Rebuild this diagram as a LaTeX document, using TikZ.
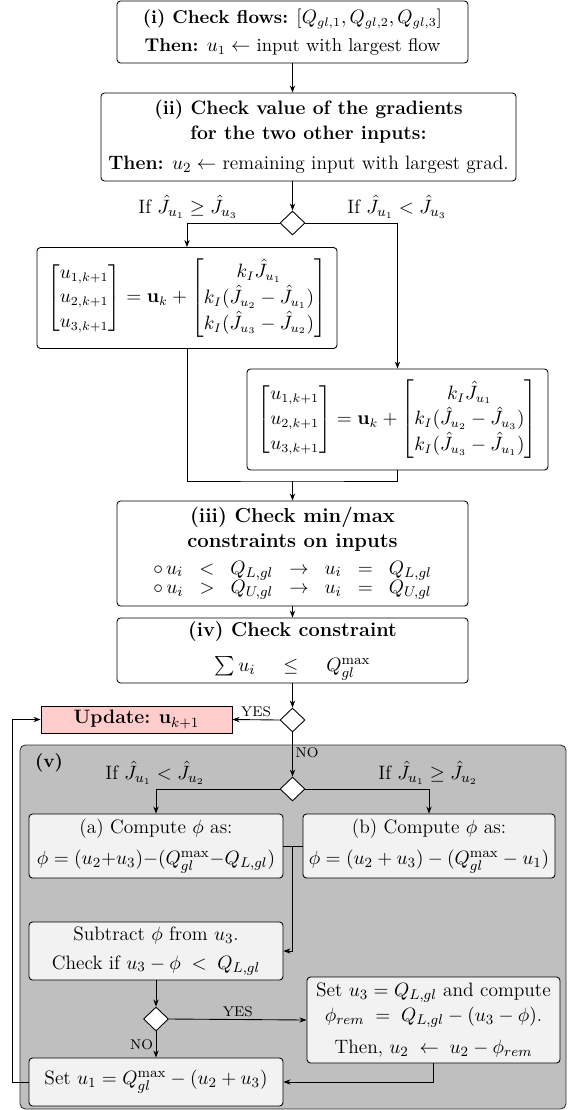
\documentclass[tikz,border=0pt]{standalone}
\usepackage{amsmath,amssymb}
\usetikzlibrary{shapes.geometric,arrows.meta}
\newcommand\pxu{0.567pt}
\newcommand\gapp{\mkern10mu}
\begin{document}
\begin{tikzpicture}[x=0.567pt,y=-0.567pt,
  every node/.append style={font=\fontsize{10}{14}\selectfont},
  fa/.style={font=\fontsize{10.5}{14}\selectfont},
  fb/.style={font=\fontsize{11}{14}\selectfont},
  fm/.style={font=\fontsize{10.6}{14}\selectfont},
  sz/.style 2 args={minimum width=#1*\pxu, minimum height=#2*\pxu},
  box/.style={draw, rounded corners=2pt, line width=0.5pt, align=center, inner sep=0pt, fill=white},
  vbox/.style={box, fill=gray!10, fb},
  dia/.style={diamond, draw, fill=white, inner sep=0pt, minimum width=25*\pxu, minimum height=24*\pxu, line width=0.5pt},
  arr/.style={-{Stealth[length=4pt,width=3pt]}, line width=0.5pt},
  ln/.style={line width=0.5pt},
  lbl/.style={font=\footnotesize, inner sep=1.5pt},
  txt/.style={inner sep=0pt, fb}
]
\useasboundingbox (0,0) rectangle (568,1110);

% top part
\node[box, fa, sz={351}{62}] (i) at (292.5,32) {\textbf{(i) Check flows:} $[Q_{gl,1}, Q_{gl,2}, Q_{gl,3}]$\\[2pt] \textbf{Then:} $u_1 \leftarrow$ input with largest flow};
\node[box, fb, sz={415}{88}] (ii) at (308.5,137) {\textbf{(ii) Check value of the gradients}\\ \textbf{for the two other inputs:}\\[3pt] \textbf{Then:} $u_2 \leftarrow$ remaining input with largest grad.};
\node[dia] (d1) at (292.5,223) {};
\node[txt] (l1) at (188,207) {If $\hat{J}_{u_1} \geq \hat{J}_{u_3}$};
\node[txt] (l2) at (397,207) {If $\hat{J}_{u_1} < \hat{J}_{u_3}$};

\node[box, fm, sz={300}{101}] (A) at (187,298) {$\begin{bmatrix} u_{1,k+1}\\ u_{2,k+1}\\ u_{3,k+1}\end{bmatrix} = \mathbf{u}_k + \begin{bmatrix} k_I\hat{J}_{u_1}\\ k_I(\hat{J}_{u_2}-\hat{J}_{u_1})\\ k_I(\hat{J}_{u_3}-\hat{J}_{u_2})\end{bmatrix}$};
\node[box, fm, sz={301}{101}] (B) at (397.5,419.5) {$\begin{bmatrix} u_{1,k+1}\\ u_{2,k+1}\\ u_{3,k+1}\end{bmatrix} = \mathbf{u}_k + \begin{bmatrix} k_I\hat{J}_{u_1}\\ k_I(\hat{J}_{u_2}-\hat{J}_{u_3})\\ k_I(\hat{J}_{u_3}-\hat{J}_{u_1})\end{bmatrix}$};
\coordinate (m1) at (292.5,481);

\node[box, fb, sz={351}{105}] (iii) at (292.5,553.5) {\textbf{\fontsize{11.5}{14}\selectfont (iii) Check min/max}\\ \textbf{\fontsize{11.5}{14}\selectfont constraints on inputs}\\[1pt] $\circ\, u_i \gapp<\gapp Q_{L,gl} \gapp\rightarrow\gapp u_i \gapp=\gapp Q_{L,gl}$\\[-3pt] $\circ\, u_i \gapp>\gapp Q_{U,gl} \gapp\rightarrow\gapp u_i \gapp=\gapp Q_{U,gl}$};
\node[box, fb, sz={351}{65}] (iv) at (292.5,650.5) {\textbf{\fontsize{11.3}{14}\selectfont (iv) Check constraint}\\[6pt] $\sum u_i \quad\,\leq\quad\, Q^{\max}_{gl}$};
\node[dia] (d2) at (292.5,720) {};
\node[draw, fill=red!20, line width=0.5pt, inner sep=0pt, sz={191}{27}, font=\fontsize{11}{13}\selectfont] (upd) at (136.5,719.5) {\textbf{Update:} $\mathbf{u}_{k+1}$};

% region (v)
\draw[fill=gray!50, draw=black!80, rounded corners=3pt, line width=0.5pt] (20,745) rectangle (566,1109);
\node[txt, font=\fontsize{10.5}{12}\bfseries] (vl) at (49,763) {(v)};
\node[dia] (d3) at (292.5,789) {};
\node[txt] (l3) at (155,773) {If $\hat{J}_{u_1} < \hat{J}_{u_2}$};
\node[txt] (l4) at (428,773) {If $\hat{J}_{u_1} \geq \hat{J}_{u_2}$};

\node[vbox, sz={254}{64}] (a) at (156,846) {(a) Compute $\phi$ as:\\[4pt] $\phi = (u_2{+}u_3){-}(Q^{\max}_{gl}{-}Q_{L,gl})$};
\node[vbox, sz={252}{64}] (b) at (429,846) {(b) Compute $\phi$ as:\\[4pt] $\phi = (u_2 + u_3) - (Q^{\max}_{gl} - u_1)$};
\coordinate (m2) at (292.5,846);
\node[vbox, sz={254}{58}] (sub) at (156,951) {Subtract $\phi$ from $u_3$.\\[2pt] Check if $u_3 - \phi \;<\; Q_{L,gl}$};
\node[dia] (d4) at (156,1019) {};
\node[vbox, sz={253}{86}] (s3) at (433.5,1020) {Set $u_3 = Q_{L,gl}$ and compute\\ $\phi_{rem} \;=\; Q_{L,gl} - (u_3 - \phi)$.\\[4pt] Then, $u_2 \;\leftarrow\; u_2 - \phi_{rem}$};
\node[vbox, sz={254}{48}] (s1) at (156,1082) {Set $u_1 = Q^{\max}_{gl} - (u_2 + u_3)$};

% connectors
\draw[arr] (i.south) -- (i.south |- ii.north);
\draw[arr] (d1.north |- ii.south) -- (d1.north);
\draw[arr] (d1.west) -| (A.north);
\draw[arr] (d1.east) -| (B.north);
\draw[ln] (A.south) |- (m1) -| (B.south);
\draw[arr] (m1) -- (iii.north);
\draw[arr] (iii.south) -- (iv.north);
\draw[arr] (iv.south) -- (d2.north);
\draw[arr] (d2.west) -- (upd.east) node[lbl, midway, above] {YES};
\draw[arr] (d2.south) -- (d3.north) node[lbl, pos=0.45, right] {NO};
\draw[arr] (d3.west) -| (a.north);
\draw[arr] (d3.east) -| (b.north);
\draw[ln] (a.east) -- (m2) -- (b.west);
\draw[arr] (m2) |- (sub.east);
\draw[arr] (sub.south) -- (d4.north);
\draw[arr] (d4.east) -- (s3.west) node[lbl, midway, above] {YES};
\draw[arr] (d4.south) -- (s1.north) node[lbl, midway, left] {NO};
\draw[arr] (s3.south) |- (s1.east);
\draw[arr] (s1.west) -- ++(-16,0) |- (upd.west);
\end{tikzpicture}
\end{document}
